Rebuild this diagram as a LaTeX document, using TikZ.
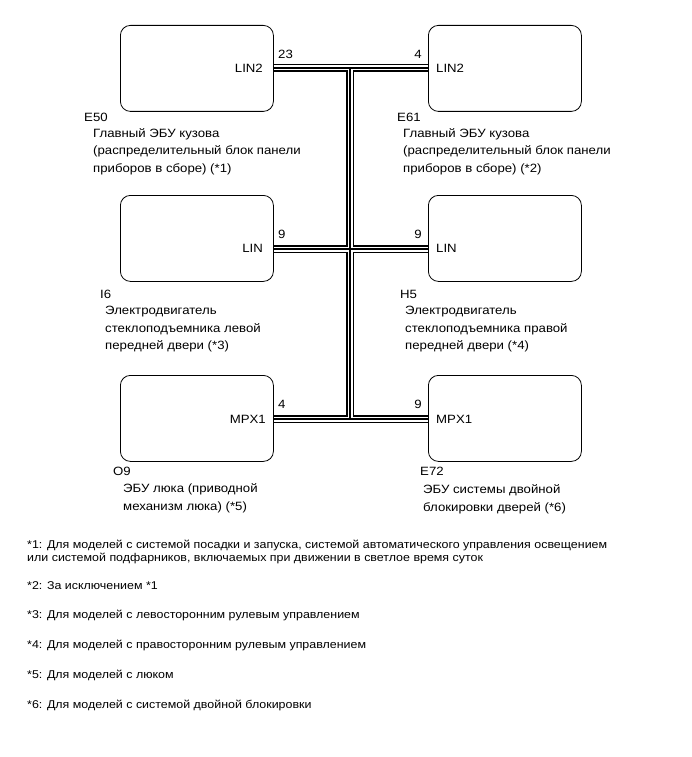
\documentclass[tikz,border=0pt]{standalone}
\usepackage{fontspec}
\setmainfont{Liberation Sans}[FakeStretch=1.1]
\usetikzlibrary{positioning}
\tikzset{
  ecu/.style={draw, rounded corners=10pt, minimum width=153pt, minimum height=86pt, anchor=north west, line width=0.8pt},
  pin/.style={inner sep=0pt, font=\fontsize{12}{14}\selectfont},
  ident/.style={inner sep=0pt, anchor=west, font=\fontsize{12}{14}\selectfont},
  desc/.style={inner sep=0pt, align=left, anchor=north west, font=\fontsize{12}{17.5}\selectfont},
  note/.style={inner sep=0pt, align=left, anchor=west, font=\fontsize{11.3}{13}\selectfont},
  buswire/.style={line width=2.6pt, preaction={draw, line width=7.5pt}, preaction={draw, white, line width=5pt}}
}
\begin{document}
\begin{tikzpicture}[x=1pt, y=-1pt]
  \useasboundingbox (0,0) rectangle (691,757);
  % units
  \node[ecu] (e50) at (120,25) {};
  \node[ecu] (e61) at (428,25) {};
  \node[ecu] (i6) at (120,195) {};
  \node[ecu] (h5) at (428,195) {};
  \node[ecu] (o9) at (120,375) {};
  \node[ecu] (e72) at (428,375) {};
  % bus junctions
  \coordinate (jt) at (350,68);
  \coordinate (jm) at (350,249);
  \coordinate (jb) at (350,419);
  \draw[buswire] (e50.east |- jt) -- (e61.west |- jt)
    (i6.east |- jm) -- (h5.west |- jm)
    (o9.east |- jb) -- (e72.west |- jb)
    (jt) -- (jb);
  % pins
  \node[pin, anchor=east] (e50pin) at (263,68) {LIN2};
  \node[pin, anchor=west] (e50no) at (278,54) {23};
  \node[pin, anchor=east] (e61no) at (422,54) {4};
  \node[pin, anchor=west] (e61pin) at (436,68) {LIN2};
  \node[pin, anchor=east] (i6pin) at (263,248) {LIN};
  \node[pin, anchor=west] (i6no) at (278,234) {9};
  \node[pin, anchor=east] (h5no) at (422,234) {9};
  \node[pin, anchor=west] (h5pin) at (436,248) {LIN};
  \node[pin, anchor=east] (o9pin) at (266,419) {MPX1};
  \node[pin, anchor=west] (o9no) at (278,404) {4};
  \node[pin, anchor=east] (e72no) at (422,404) {9};
  \node[pin, anchor=west] (e72pin) at (436,419) {MPX1};
  % labels
  \node[ident] (e50id) at (84,117) {E50};
  \node[desc] (e50txt) at (93,128) {Главный ЭБУ кузова\\(распределительный блок панели\\приборов в сборе) (*1)};
  \node[ident] (e61id) at (397,117) {E61};
  \node[desc] (e61txt) at (403,128) {Главный ЭБУ кузова\\(распределительный блок панели\\приборов в сборе) (*2)};
  \node[ident] (i6id) at (100,294) {I6};
  \node[desc] (i6txt) at (105,306) {Электродвигатель\\стеклоподъемника левой\\передней двери (*3)};
  \node[ident] (h5id) at (400,294) {H5};
  \node[desc] (h5txt) at (405,306) {Электродвигатель\\стеклоподъемника правой\\передней двери (*4)};
  \node[ident] (o9id) at (113,471) {O9};
  \node[desc] (o9txt) at (123,483.5) {ЭБУ люка (приводной\\механизм люка) (*5)};
  \node[ident] (e72id) at (420,471) {E72};
  \node[desc] (e72txt) at (423,484.5) {ЭБУ системы двойной\\блокировки дверей (*6)};
  % notes
  \node[note, anchor=north west] (note1) at (27,539.5) {*1: Для моделей с системой посадки и запуска, системой автоматического управления освещением\\или системой подфарников, включаемых при движении в светлое время суток};
  \node[note] (note2) at (27,586) {*2: За исключением *1};
  \node[note] (note3) at (27,615) {*3: Для моделей с левосторонним рулевым управлением};
  \node[note] (note4) at (27,645) {*4: Для моделей с правосторонним рулевым управлением};
  \node[note] (note5) at (27,675) {*5: Для моделей с люком};
  \node[note] (note6) at (27,705) {*6: Для моделей с системой двойной блокировки};
\end{tikzpicture}
\end{document}
